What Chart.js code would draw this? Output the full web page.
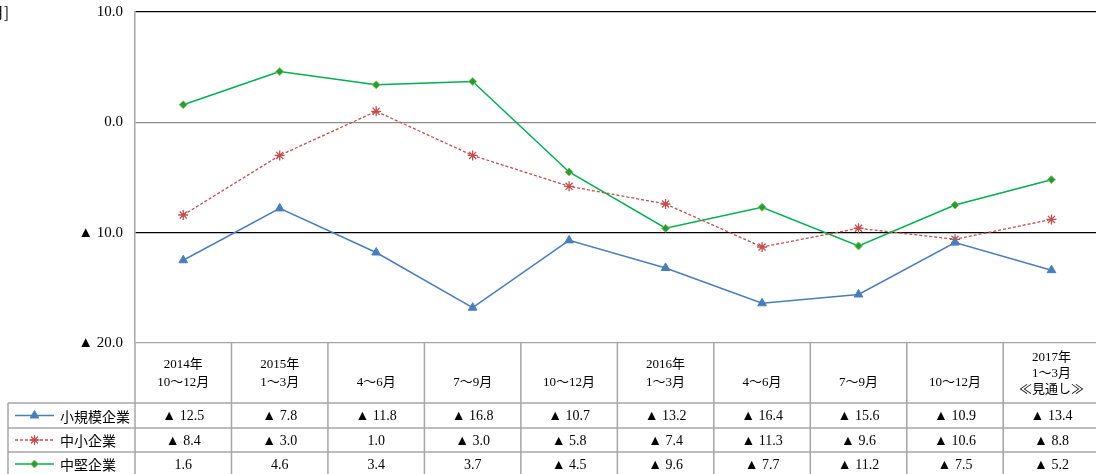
<!DOCTYPE html>
<html>
<head>
<meta charset="utf-8">
<script src="https://cdn.jsdelivr.net/npm/chart.js@4"></script>
<style>
  html, body { margin: 0; padding: 0; background: #fff; overflow: hidden; }
  #wrap { width: 1096px; height: 474px; overflow: hidden; }
</style>
</head>
<body>
<div id="wrap"><canvas id="c" width="1106" height="474"></canvas></div>
<script>
// categories (header lines of the table)
const categories = [
  ["2014年", "10～12月"], ["2015年", "1～3月"], ["", "4～6月"], ["", "7～9月"],
  ["", "10～12月"], ["2016年", "1～3月"], ["", "4～6月"], ["", "7～9月"],
  ["", "10～12月"], ["2017年", "1～3月", "≪見通し≫"]
];
const seriesNames = ["小規模企業", "中小企業", "中堅企業"];
const small = [-12.5, -7.8, -11.8, -16.8, -10.7, -13.2, -16.4, -15.6, -10.9, -13.4];
const smeMid = [-8.4, -3.0, 1.0, -3.0, -5.8, -7.4, -11.3, -9.6, -10.6, -8.8];
const midTier = [1.6, 4.6, 3.4, 3.7, -4.5, -9.6, -7.7, -11.2, -7.5, -5.2];
const yTicks = [10, 0, -10, -20];

const serif = "'Liberation Serif', 'Noto Sans CJK JP', serif";
const gothic = "'Noto Sans CJK JP', sans-serif";
const tableLine = "#a6a6a6";

function fmt(v) {
  if (v < 0) return "▲ " + Math.abs(v).toFixed(1);
  return v.toFixed(1);
}

const datasets = [
  { label: seriesNames[0], data: small, borderColor: "#4a7ebb", backgroundColor: "#4a7ebb",
    pointStyle: "triangle", pointRadius: 5, borderWidth: 1.5, pointBorderWidth: 1 },
  { label: seriesNames[1], data: smeMid, borderColor: "#c0504d", backgroundColor: "#c0504d",
    borderDash: [3, 2], pointStyle: "star", pointRadius: 5, borderWidth: 1.3, pointBorderWidth: 1.3 },
  { label: seriesNames[2], data: midTier, borderColor: "#00b050", backgroundColor: "#1e9e3c",
    pointStyle: "rectRot", pointRadius: 4, borderWidth: 1.5, pointBorderWidth: 1,
    pointBorderColor: "#9bbb59" }
];

// draws the data table under the plot, from the arrays above
const tablePlugin = {
  id: "table",
  afterDraw(chart) {
    const ctx = chart.ctx;
    const x = chart.scales.x;
    const area = chart.chartArea;
    const n = categories.length;
    const centers = categories.map((c, i) => x.getPixelForValue(i));
    const bounds = [area.left];
    for (let i = 0; i < n - 1; i++) bounds.push((centers[i] + centers[i + 1]) / 2);
    bounds.push(area.right);

    const top = area.bottom;
    const headBottom = top + 60;
    const rowH = [25, 24, 24];
    const rowTops = [headBottom, headBottom + 25, headBottom + 49];
    const bottom = headBottom + 73;
    const legendLeft = 8;

    ctx.save();
    ctx.strokeStyle = tableLine;
    ctx.lineWidth = 1.5;
    ctx.beginPath();
    // vertical lines
    bounds.forEach(b => { ctx.moveTo(b, top); ctx.lineTo(b, bottom); });
    ctx.moveTo(legendLeft, headBottom); ctx.lineTo(legendLeft, bottom);
    // horizontal lines
    rowTops.forEach(t => { ctx.moveTo(legendLeft, t); ctx.lineTo(area.right, t); });
    ctx.moveTo(legendLeft, bottom); ctx.lineTo(area.right, bottom);
    ctx.stroke();

    // header text
    ctx.fillStyle = "#000";
    ctx.textAlign = "center";
    ctx.textBaseline = "middle";
    ctx.font = "13px " + serif;
    const midHead = (top + headBottom) / 2 + 1;
    categories.forEach((lines, i) => {
      const lh = lines.length === 3 ? 16 : 18;
      const y0 = midHead - (lines.length - 1) * lh / 2;
      lines.forEach((t, k) => { if (t) ctx.fillText(t, centers[i], y0 + k * lh); });
    });

    // rows
    chart.data.datasets.forEach((ds, r) => {
      const cy = rowTops[r] + rowH[r] / 2 + 1;
      ctx.font = "14px " + serif;
      ctx.textAlign = "center";
      ctx.fillStyle = "#000";
      ds.data.forEach((v, i) => ctx.fillText(fmt(v), centers[i], cy));

      // legend sample
      ctx.save();
      ctx.strokeStyle = ds.borderColor;
      ctx.lineWidth = ds.borderWidth;
      ctx.setLineDash(ds.borderDash || []);
      ctx.beginPath();
      ctx.moveTo(15, cy - 1); ctx.lineTo(54, cy - 1);
      ctx.stroke();
      ctx.setLineDash([]);
      ctx.fillStyle = ds.backgroundColor;
      ctx.strokeStyle = ds.pointBorderColor || ds.borderColor;
      ctx.lineWidth = ds.pointBorderWidth;
      Chart.helpers.drawPoint(ctx, { pointStyle: ds.pointStyle, radius: ds.pointRadius,
        rotation: 0, borderWidth: ds.pointBorderWidth }, 34.5, cy - 1);
      ctx.restore();

      ctx.font = "14px " + gothic;
      ctx.textAlign = "left";
      ctx.fillStyle = "#000";
      ctx.fillText(ds.label, 60, cy);
    });

    // cut-off unit label at top left
    ctx.font = "15px " + gothic;
    ctx.textAlign = "right";
    ctx.fillText("月]", 9, 12);
    ctx.restore();
  }
};

new Chart(document.getElementById("c"), {
  type: "line",
  data: { labels: categories, datasets: datasets },
  options: {
    responsive: false,
    animation: false,
    devicePixelRatio: 1,
    layout: { padding: { top: 12, bottom: 131, left: 0, right: 0 } },
    plugins: { legend: { display: false }, tooltip: { enabled: false } },
    elements: { line: { tension: 0 } },
    scales: {
      x: { display: false, offset: true },
      y: {
        min: -20, max: 10,
        afterFit: s => { s.width = 135; s.paddingTop = 0; s.paddingBottom = 0; },
        afterBuildTicks: s => { s.ticks = yTicks.map(v => ({ value: v })); },
        border: { display: true, color: tableLine, width: 1.5 },
        grid: {
          drawTicks: false,
          lineWidth: 1.3,
          color: c => c.tick.value === 0 ? "#8c8c8c" : (c.tick.value === -20 ? tableLine : "#000")
        },
        ticks: {
          padding: 12,
          color: "#000",
          font: { family: serif, size: 15 },
          callback: v => fmt(v)
        }
      }
    }
  },
  plugins: [tablePlugin]
});
</script>
</body>
</html>
